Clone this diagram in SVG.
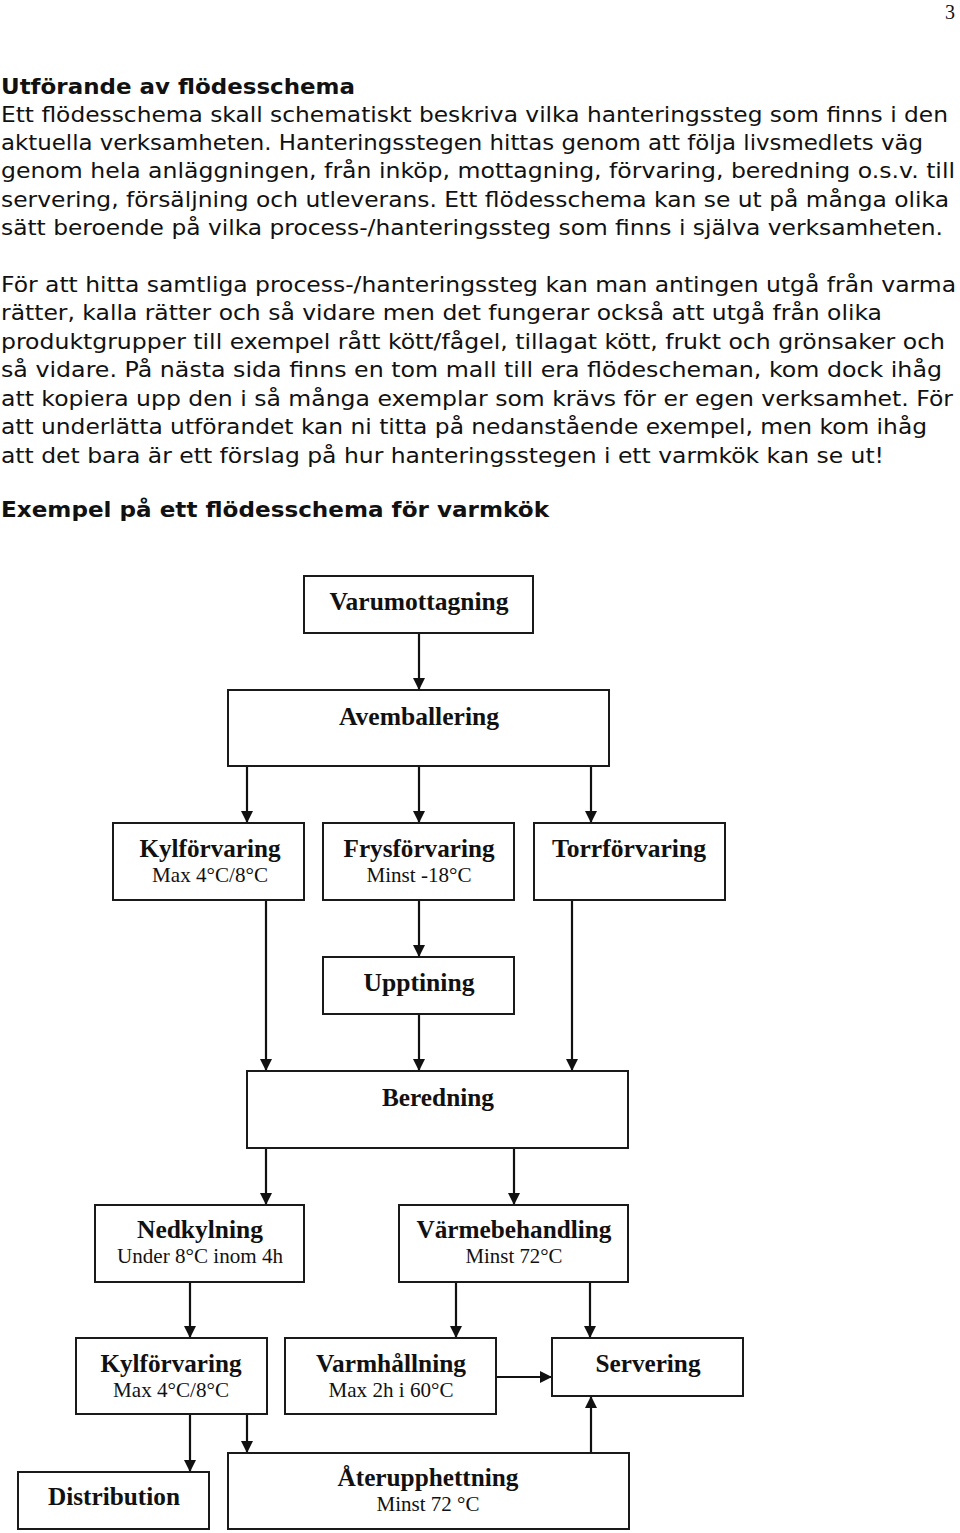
<svg xmlns="http://www.w3.org/2000/svg" width="960" height="1533" viewBox="0 0 960 1533">
<style>
.body{font-family:"DejaVu Sans","Liberation Sans",sans-serif;font-size:21px;fill:#111}
.hd{font-family:"DejaVu Sans","Liberation Sans",sans-serif;font-size:21px;font-weight:bold;fill:#111}
.box{fill:#fff;stroke:#1a1a1a;stroke-width:2}
.t{font-family:"Liberation Serif","Times New Roman",serif;font-size:26px;font-weight:bold;fill:#111;text-anchor:middle}
.s{font-family:"Liberation Serif","Times New Roman",serif;font-size:21px;fill:#111;text-anchor:middle}
.c line{stroke:#111;stroke-width:2.2;marker-end:url(#ah)}
</style>
<defs>
<marker id="ah" markerUnits="userSpaceOnUse" markerWidth="12" markerHeight="12" refX="12" refY="6" orient="auto">
<path d="M0,0 L12,6 L0,12 z" fill="#111"/>
</marker>
</defs>
<rect width="960" height="1533" fill="#fff"/>
<text x="955" y="19" style="font-family:'Liberation Serif',serif;font-size:20px;fill:#111" text-anchor="end">3</text>
<g id="text">
<text class="hd" x="1" y="94" textLength="354" lengthAdjust="spacingAndGlyphs">Utförande av flödesschema</text>
<text class="body" x="1" y="122" textLength="947" lengthAdjust="spacingAndGlyphs">Ett flödesschema skall schematiskt beskriva vilka hanteringssteg som finns i den</text>
<text class="body" x="1" y="150" textLength="922" lengthAdjust="spacingAndGlyphs">aktuella verksamheten. Hanteringsstegen hittas genom att följa livsmedlets väg</text>
<text class="body" x="1" y="178" textLength="954" lengthAdjust="spacingAndGlyphs">genom hela anläggningen, från inköp, mottagning, förvaring, beredning o.s.v. till</text>
<text class="body" x="1" y="207" textLength="948" lengthAdjust="spacingAndGlyphs">servering, försäljning och utleverans. Ett flödesschema kan se ut på många olika</text>
<text class="body" x="1" y="235" textLength="942" lengthAdjust="spacingAndGlyphs">sätt beroende på vilka process-/hanteringssteg som finns i själva verksamheten.</text>
<text class="body" x="1" y="292" textLength="955" lengthAdjust="spacingAndGlyphs">För att hitta samtliga process-/hanteringssteg kan man antingen utgå från varma</text>
<text class="body" x="1" y="320" textLength="881" lengthAdjust="spacingAndGlyphs">rätter, kalla rätter och så vidare men det fungerar också att utgå från olika</text>
<text class="body" x="1" y="349" textLength="944" lengthAdjust="spacingAndGlyphs">produktgrupper till exempel rått kött/fågel, tillagat kött, frukt och grönsaker och</text>
<text class="body" x="1" y="377" textLength="941" lengthAdjust="spacingAndGlyphs">så vidare. På nästa sida finns en tom mall till era flödescheman, kom dock ihåg</text>
<text class="body" x="1" y="406" textLength="952" lengthAdjust="spacingAndGlyphs">att kopiera upp den i så många exemplar som krävs för er egen verksamhet. För</text>
<text class="body" x="1" y="434" textLength="926" lengthAdjust="spacingAndGlyphs">att underlätta utförandet kan ni titta på nedanstående exempel, men kom ihåg</text>
<text class="body" x="1" y="463" textLength="883" lengthAdjust="spacingAndGlyphs">att det bara är ett förslag på hur hanteringsstegen i ett varmkök kan se ut!</text>
<text class="hd" x="1" y="517" textLength="548" lengthAdjust="spacingAndGlyphs">Exempel på ett flödesschema för varmkök</text>
</g>
<g id="connectors" class="c">
<line x1="419" y1="633" x2="419" y2="690"/>
<line x1="247" y1="766" x2="247" y2="823"/>
<line x1="419" y1="766" x2="419" y2="823"/>
<line x1="591" y1="766" x2="591" y2="823"/>
<line x1="266" y1="900" x2="266" y2="1071"/>
<line x1="419" y1="900" x2="419" y2="957"/>
<line x1="572" y1="900" x2="572" y2="1071"/>
<line x1="419" y1="1014" x2="419" y2="1071"/>
<line x1="266" y1="1148" x2="266" y2="1205"/>
<line x1="514" y1="1148" x2="514" y2="1205"/>
<line x1="190" y1="1282" x2="190" y2="1338"/>
<line x1="456" y1="1282" x2="456" y2="1338"/>
<line x1="590" y1="1282" x2="590" y2="1338"/>
<line x1="190" y1="1414" x2="190" y2="1472"/>
<line x1="247" y1="1414" x2="247" y2="1453"/>
<line x1="496" y1="1377" x2="552" y2="1377"/>
<line x1="591" y1="1453" x2="591" y2="1396"/>
</g>
<g id="varumottagning"><rect class="box" x="304" y="576" width="229" height="57"/><text class="t" x="419" y="610" textLength="179" lengthAdjust="spacingAndGlyphs">Varumottagning</text></g>
<g id="avemballering"><rect class="box" x="228" y="690" width="381" height="76"/><text class="t" x="419" y="725" textLength="160" lengthAdjust="spacingAndGlyphs">Avemballering</text></g>
<g id="kylforvaring1"><rect class="box" x="113" y="823" width="191" height="77"/><text class="t" x="210" y="857" textLength="141" lengthAdjust="spacingAndGlyphs">Kylförvaring</text><text class="s" x="210" y="882" textLength="116" lengthAdjust="spacingAndGlyphs">Max 4°C/8°C</text></g>
<g id="frysforvaring"><rect class="box" x="323" y="823" width="191" height="77"/><text class="t" x="419" y="857" textLength="151" lengthAdjust="spacingAndGlyphs">Frysförvaring</text><text class="s" x="419" y="882" textLength="105" lengthAdjust="spacingAndGlyphs">Minst -18°C</text></g>
<g id="torrforvaring"><rect class="box" x="534" y="823" width="191" height="77"/><text class="t" x="629" y="857" textLength="154" lengthAdjust="spacingAndGlyphs">Torrförvaring</text></g>
<g id="upptining"><rect class="box" x="323" y="957" width="191" height="57"/><text class="t" x="419" y="991" textLength="111" lengthAdjust="spacingAndGlyphs">Upptining</text></g>
<g id="beredning"><rect class="box" x="247" y="1071" width="381" height="77"/><text class="t" x="438" y="1106" textLength="112" lengthAdjust="spacingAndGlyphs">Beredning</text></g>
<g id="nedkylning"><rect class="box" x="95" y="1205" width="209" height="77"/><text class="t" x="200" y="1238" textLength="126" lengthAdjust="spacingAndGlyphs">Nedkylning</text><text class="s" x="200" y="1263" textLength="166" lengthAdjust="spacingAndGlyphs">Under 8°C inom 4h</text></g>
<g id="varmebehandling"><rect class="box" x="399" y="1205" width="229" height="77"/><text class="t" x="514" y="1238" textLength="195" lengthAdjust="spacingAndGlyphs">Värmebehandling</text><text class="s" x="514" y="1263" textLength="97" lengthAdjust="spacingAndGlyphs">Minst 72°C</text></g>
<g id="kylforvaring2"><rect class="box" x="76" y="1338" width="191" height="76"/><text class="t" x="171" y="1372" textLength="141" lengthAdjust="spacingAndGlyphs">Kylförvaring</text><text class="s" x="171" y="1397" textLength="116" lengthAdjust="spacingAndGlyphs">Max 4°C/8°C</text></g>
<g id="varmhallning"><rect class="box" x="285" y="1338" width="211" height="76"/><text class="t" x="391" y="1372" textLength="150" lengthAdjust="spacingAndGlyphs">Varmhållning</text><text class="s" x="391" y="1397" textLength="125" lengthAdjust="spacingAndGlyphs">Max 2h i 60°C</text></g>
<g id="servering"><rect class="box" x="552" y="1338" width="191" height="58"/><text class="t" x="648" y="1372" textLength="105" lengthAdjust="spacingAndGlyphs">Servering</text></g>
<g id="distribution"><rect class="box" x="18" y="1472" width="191" height="57"/><text class="t" x="114" y="1505" textLength="132" lengthAdjust="spacingAndGlyphs">Distribution</text></g>
<g id="aterupphettning"><rect class="box" x="228" y="1453" width="401" height="76"/><text class="t" x="428" y="1486" textLength="181" lengthAdjust="spacingAndGlyphs">Återupphettning</text><text class="s" x="428" y="1511" textLength="103" lengthAdjust="spacingAndGlyphs">Minst 72 °C</text></g>
</svg>
